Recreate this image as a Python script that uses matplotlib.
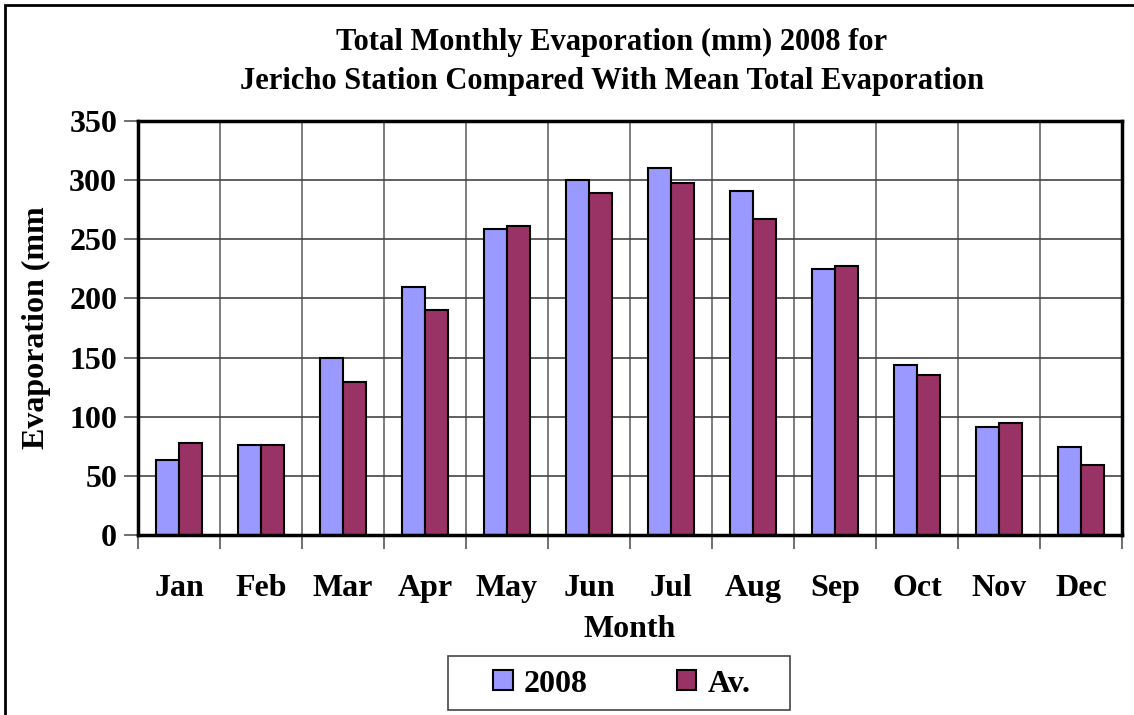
import numpy as np
import matplotlib
matplotlib.use("Agg")
import matplotlib.pyplot as plt
from matplotlib.patches import Rectangle

# Data
months = ["Jan", "Feb", "Mar", "Apr", "May", "Jun",
          "Jul", "Aug", "Sep", "Oct", "Nov", "Dec"]
evap_2008 = [63, 76, 150, 210, 259, 300, 310, 291, 225, 144, 91, 74]
evap_avg = [78, 76, 129, 190, 261, 289, 298, 267, 227, 135, 95, 59]
yticks = [0, 50, 100, 150, 200, 250, 300, 350]

plt.rcParams["font.family"] = ["Liberation Serif", "DejaVu Serif"]
plt.rcParams["font.weight"] = "bold"

W, H = 1134, 715
fig = plt.figure(figsize=(W / 100, H / 100), dpi=100)
ax = fig.add_axes([138 / W, 1 - 535 / H, (1122 - 138) / W, (535 - 121) / H])

x = np.arange(len(months))
bw = 0.28
ax.bar(x - bw / 2, evap_2008, bw, color="#9999FF", edgecolor="black",
       linewidth=1.5, label="2008", zorder=3)
ax.bar(x + bw / 2, evap_avg, bw, color="#993366", edgecolor="black",
       linewidth=1.5, label="Av.", zorder=3)

ax.set_xlim(-0.5, len(months) - 0.5)
ax.set_ylim(0, 350)
ax.set_yticks(yticks)
ax.set_yticklabels([str(v) for v in yticks], fontsize=23, fontweight="bold")
ax.set_xticks(x)
ax.set_xticklabels(months, fontsize=23, fontweight="bold")
ax.tick_params(axis="x", length=0, pad=28)
ax.tick_params(axis="y", length=10, width=1.2, color="#555555", pad=5)

# category boundaries: gridlines and outward ticks
bounds = np.arange(-0.5, len(months) + 0.5, 1)
for b in bounds[1:-1]:
    ax.axvline(b, color="#666666", linewidth=1.2, zorder=1)
ax.set_xticks(bounds, minor=True)
ax.tick_params(axis="x", which="minor", length=10, width=1.2, color="#555555")
ax.yaxis.grid(True, color="#444444", linewidth=1.2, zorder=1)

for s in ax.spines.values():
    s.set_linewidth(2.5)
    s.set_zorder(4)

ax.set_xlabel("Month", fontsize=23, fontweight="bold", labelpad=9)
ax.set_ylabel("Evaporation (mm", fontsize=23, fontweight="bold")
ax.yaxis.set_label_coords(-87 / (1122 - 138), (535 - 328) / (535 - 121))

fig.text(612 / W, 1 - 42 / H, "Total Monthly Evaporation (mm) 2008 for",
         ha="center", va="center", fontsize=22, fontweight="bold")
fig.text(612 / W, 1 - 82 / H,
         "Jericho Station Compared With Mean Total Evaporation",
         ha="center", va="center", fontsize=22, fontweight="bold")

leg = fig.legend(loc="center", bbox_to_anchor=(622 / W, 1 - 684 / H),
                 ncol=2, fontsize=23, frameon=False,
                 handlelength=0.6, handleheight=0.6, columnspacing=2.8,
                 handletextpad=0.35, borderpad=0.3)
for t in leg.get_texts():
    t.set_fontweight("bold")

# legend frame
fig.patches.append(Rectangle((448 / W, 1 - 710 / H), (790 - 448) / W,
                             (710 - 656) / H, transform=fig.transFigure,
                             fill=False, edgecolor="#444444", linewidth=1.2))

# outer chart border
fig.patches.append(Rectangle((5 / W, -0.05), 1.1, 1 - 5 / H + 0.05,
                             transform=fig.transFigure, fill=False,
                             edgecolor="black", linewidth=2))

fig.savefig("out.png", dpi=100)
